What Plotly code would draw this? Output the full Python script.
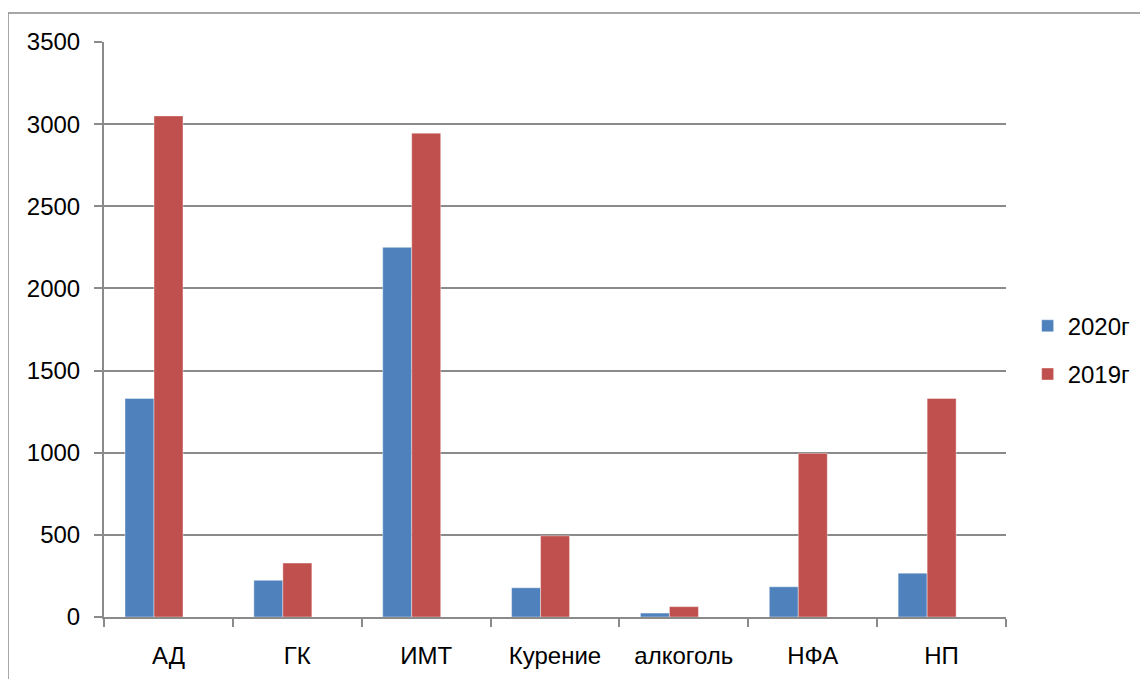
import plotly.graph_objects as go

categories = ["АД", "ГК", "ИМТ", "Курение", "алкоголь", "НФА", "НП"]
series_names = ["2020г", "2019г"]
values_2020 = [1330, 223, 2250, 178, 24, 184, 267]
values_2019 = [3050, 328, 2945, 494, 63, 996, 1330]
y_ticks = [0, 500, 1000, 1500, 2000, 2500, 3000, 3500]

BLUE = "#4F81BD"
RED = "#C0504D"
GRID = "#8a8a8a"
FONT = "Liberation Sans, Arial, sans-serif"

# page body has an 8px margin, so the figure is drawn 8px in from the top-left
L, T, PW, PH = 96, 34, 902, 575
W, H = 1140, 671

fig = go.Figure()
fig.add_trace(go.Bar(name=series_names[0], x=categories, y=values_2020,
                     marker=dict(color=BLUE, line=dict(color="rgba(255,255,255,0.5)", width=0.8)),
                     width=0.225, offset=-0.337, legendgroup="a"))
fig.add_trace(go.Bar(name=series_names[1], x=categories, y=values_2019,
                     marker=dict(color=RED, line=dict(color="rgba(255,255,255,0.5)", width=0.8)),
                     width=0.225, offset=-0.112, legendgroup="b"))

# outer chart frame (extends beyond the visible page on right/bottom)
fig.add_shape(type="rect", xref="paper", yref="paper",
              x0=(0 - L) / PW, x1=1.4, y0=-0.3, y1=(T + PH - 5) / PH,
              line=dict(color=GRID, width=1.5), fillcolor="rgba(0,0,0,0)", layer="below")

fig.update_layout(
    width=W, height=H,
    margin=dict(l=L, r=W - L - PW, t=T, b=H - T - PH, pad=0, autoexpand=False),
    paper_bgcolor="white", plot_bgcolor="white",
    font=dict(family=FONT, size=24, color="black"),
    barmode="group",
    showlegend=True,
    legend=dict(x=1.024, y=0.464, xanchor="left", yanchor="middle",
                font=dict(size=24, color="black"),
                traceorder="grouped", tracegroupgap=14,
                bgcolor="rgba(0,0,0,0)"),
)
fig.update_xaxes(
    type="category", tickson="boundaries",
    showline=True, linecolor=GRID, linewidth=2,
    ticks="outside", ticklen=8, tickcolor=GRID, tickwidth=2,
    showgrid=False, ticklabelstandoff=16,
)
fig.update_yaxes(
    range=[0, 3500], tickvals=y_ticks,
    showline=True, linecolor=GRID, linewidth=2,
    ticks="outside", ticklen=8, tickcolor=GRID, tickwidth=2,
    showgrid=True, gridcolor=GRID, gridwidth=1.5,
    zeroline=False, ticklabelstandoff=9,
)

fig.write_html("out.html")
